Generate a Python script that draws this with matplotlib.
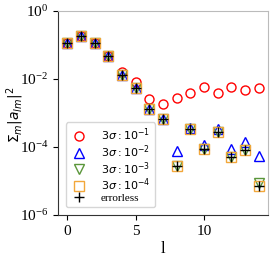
import matplotlib
matplotlib.use("Agg")
import matplotlib.pyplot as plt

plt.rcParams['font.family'] = ['Liberation Serif', 'DejaVu Serif']

l = [0, 1, 2, 3, 4, 5, 6, 7, 8, 9, 10, 11, 12, 13, 14]

# sum over m of |a_lm|^2
err_1 = [0.117, 0.19, 0.117, 0.048, 0.0165, 0.0083, 0.0026, 0.0018, 0.0027, 0.0038,
         0.0059, 0.0038, 0.006, 0.0047, 0.0055]
err_2 = [0.117, 0.19, 0.117, 0.048, 0.013, 0.0053, 0.0013, 6.6e-4, 7.8e-5, 3.6e-4,
         1.15e-4, 3.3e-4, 8.5e-5, 1.4e-4, 5.5e-5]
err_3 = [0.117, 0.19, 0.117, 0.048, 0.013, 0.0053, 0.0013, 6.6e-4, 2.8e-5, 3.4e-4,
         8.7e-5, 2.8e-4, 5.1e-5, 8.2e-5, 8.9e-6]
err_4 = [0.117, 0.19, 0.117, 0.048, 0.013, 0.0053, 0.0013, 6.6e-4, 2.7e-5, 3.3e-4,
         8.5e-5, 2.7e-4, 5e-5, 8.1e-5, 7.1e-6]
errorless = [0.117, 0.19, 0.117, 0.048, 0.013, 0.0053, 0.0013, 6.6e-4, 2.7e-5, 3.3e-4,
             8.5e-5, 2.7e-4, 5e-5, 8.1e-5, 7e-6]

fig = plt.figure(figsize=(2.73, 2.56), dpi=100)
ax = fig.add_axes([0.212, 0.16, 0.77, 0.797])

ms = 6.5
ax.plot(l, err_1, 'o', mfc='none', mec='red', ms=ms, mew=1.0, label=r'$3\sigma:10^{-1}$')
ax.plot(l, err_2, '^', mfc='none', mec='blue', ms=ms, mew=1.0, label=r'$3\sigma:10^{-2}$')
ax.plot(l, err_3, 'v', mfc='none', mec='#5a963a', ms=ms, mew=1.0, label=r'$3\sigma:10^{-3}$')
ax.plot(l, err_4, 's', mfc='none', mec='#f2a73a', ms=ms, mew=1.0, label=r'$3\sigma:10^{-4}$')
ax.plot(l, errorless, '+', color='black', ms=ms + 1, mew=1.0, label='errorless')

ax.set_yscale('log')
ax.set_ylim(1e-6, 1e0)
ax.set_xlim(-0.7, 14.7)
ax.set_xticks([0, 5, 10])
ax.set_yticks([1e-6, 1e-4, 1e-2, 1e0])
ax.minorticks_off()
ax.tick_params(labelsize=11)
for s in ax.spines.values():
    s.set_color('#bbbbbb')
ax.spines['left'].set_color('#333333')
ax.spines['bottom'].set_color('#333333')
ax.set_xlabel('l', fontsize=12, labelpad=2)
ax.set_ylabel(r'$\Sigma_m|a_{lm}|^2$', fontsize=10)
ax.yaxis.set_label_coords(-0.15, 0.49)
ax.legend(loc='lower left', fontsize=8, handletextpad=1.2, labelspacing=0.0,
          borderpad=0.4, handlelength=1.6, bbox_to_anchor=(0.01, 0.01))

plt.savefig('out.png', dpi=100)
